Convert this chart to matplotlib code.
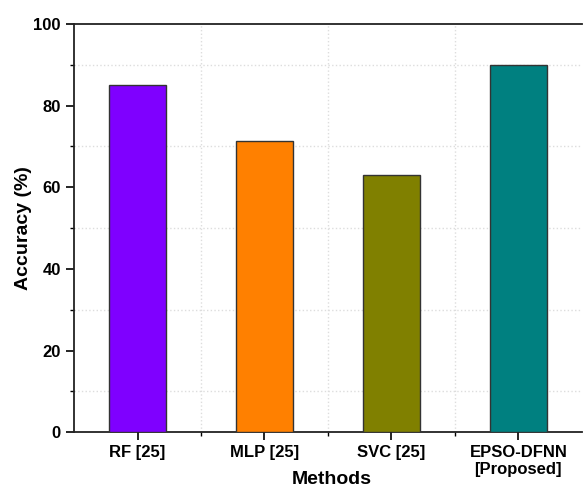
import numpy as np
import matplotlib.pyplot as plt
from matplotlib.ticker import MultipleLocator, FixedLocator

plt.rcParams['font.family'] = ['Liberation Sans', 'DejaVu Sans']
plt.rcParams['font.weight'] = 'bold'

# accuracy of each method
methods = ['RF [25]', 'MLP [25]', 'SVC [25]', 'EPSO-DFNN\n[Proposed]']
accuracy = [85.0, 71.4, 63.1, 90.0]
bar_colors = ['#7f00ff', '#ff8000', '#808000', '#008080']

fig = plt.figure(figsize=(5.83, 4.90), dpi=100)
ax = fig.add_axes([0.127, 0.118, 0.871, 0.833])

x = np.arange(len(methods))
ax.bar(x, accuracy, width=0.45, color=bar_colors, edgecolor='#333333', linewidth=1.0, zorder=3)

ax.set_xlim(-0.5, 3.5)
ax.set_ylim(0, 100)
ax.set_xticks(x)
ax.set_xticklabels(methods, fontsize=12, fontweight='bold', linespacing=1.1)
ax.xaxis.set_minor_locator(FixedLocator([0.5, 1.5, 2.5]))
ax.yaxis.set_major_locator(MultipleLocator(20))
ax.yaxis.set_minor_locator(MultipleLocator(10))
ax.tick_params(axis='both', which='major', length=6, width=1.2, labelsize=12)
ax.tick_params(axis='both', which='minor', length=3, width=1.0)
for lbl in ax.get_yticklabels():
    lbl.set_fontweight('bold')

# dotted grid on the minor positions
ax.grid(which='minor', color='#dddddd', linestyle=':', linewidth=1.0, zorder=0)
ax.grid(which='major', visible=False)

for side in ['left', 'bottom', 'top']:
    ax.spines[side].set_linewidth(1.3)
    ax.spines[side].set_color('#222222')
ax.spines['right'].set_visible(False)

ax.set_xlabel('Methods', fontsize=14, fontweight='bold')
ax.xaxis.set_label_coords(0.507, -0.096)
ax.set_ylabel('Accuracy (%)', fontsize=14, fontweight='bold', labelpad=1)

fig.savefig('out.png', dpi=100)
